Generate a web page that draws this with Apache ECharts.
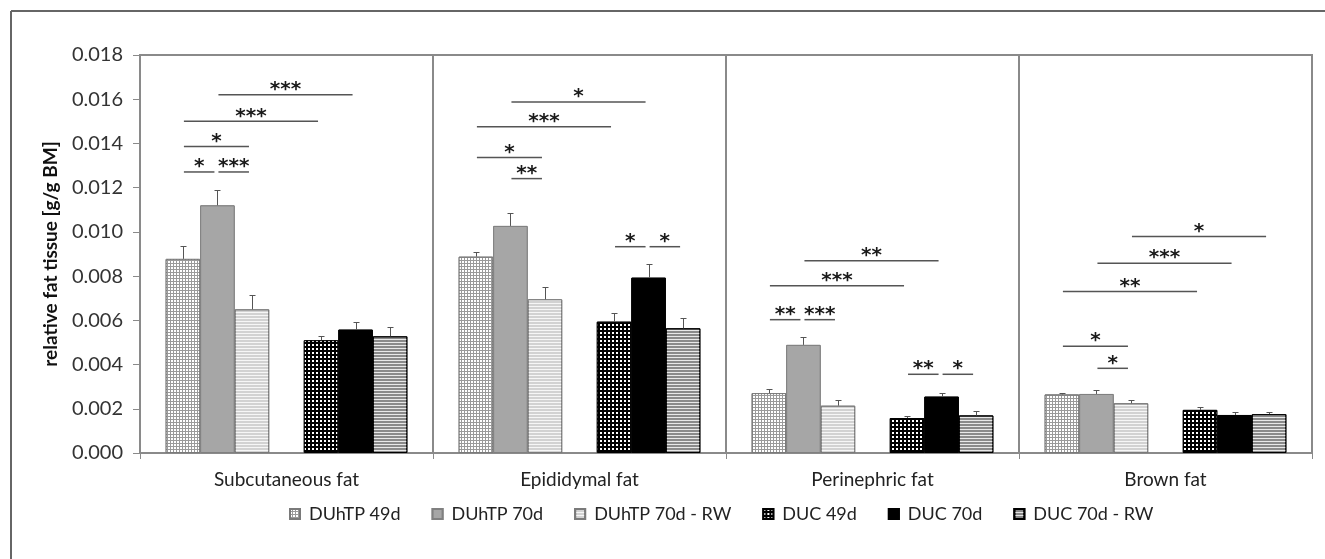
<!DOCTYPE html>
<html><head><meta charset="utf-8">
<script src="https://cdn.jsdelivr.net/npm/echarts@6/dist/echarts.min.js"></script>
<style>html,body{margin:0;padding:0;background:#fff}#c{width:1325px;height:559px}</style>
</head><body><div id="c"></div>
<script>
// ---- data ----
const categories = ['Subcutaneous fat', 'Epididymal fat', 'Perinephric fat', 'Brown fat'];
const seriesNames = ['DUhTP 49d', 'DUhTP 70d', 'DUhTP 70d - RW', 'DUC 49d', 'DUC 70d', 'DUC 70d - RW'];
const duhtp49 = [0.00878, 0.00888, 0.00271, 0.00265];
const duhtp70 = [0.01120, 0.01027, 0.00489, 0.00267];
const duhtp70rw = [0.00650, 0.00695, 0.00214, 0.00225];
const duc49 = [0.00510, 0.00594, 0.00158, 0.00195];
const duc70 = [0.00558, 0.00793, 0.00255, 0.00172];
const duc70rw = [0.00528, 0.00564, 0.00170, 0.00176];
const duhtp49Err = [0.00057, 0.00023, 0.00017, 0.00008];
const duhtp70Err = [0.00068, 0.00060, 0.00034, 0.00017];
const duhtp70rwErr = [0.00065, 0.00056, 0.00027, 0.00015];
const duc49Err = [0.00020, 0.00040, 0.00010, 0.00013];
const duc70Err = [0.00033, 0.00060, 0.00018, 0.00014];
const duc70rwErr = [0.00043, 0.00045, 0.00019, 0.00010];
const yTicks = {min: 0, max: 0.018, interval: 0.002};
// significance brackets: category, from bar, to bar (0..5), y level, label
const sigCat  = [0, 0, 0, 0, 0, 1, 1, 1, 1, 1, 1, 2, 2, 2, 2, 2, 2, 3, 3, 3, 3, 3];
const sigFrom = [1, 0, 0, 0, 1, 1, 0, 0, 1, 3, 4, 1, 0, 0, 1, 3, 4, 2, 1, 0, 0, 1];
const sigTo   = [4, 3, 2, 1, 2, 4, 3, 2, 2, 4, 5, 4, 3, 1, 2, 4, 5, 5, 4, 3, 2, 2];
const sigY    = [0.0162, 0.0150, 0.01386, 0.01271, 0.01271,
                 0.01587, 0.01476, 0.01336, 0.01241, 0.00933, 0.00933,
                 0.0087, 0.00756, 0.00603, 0.00603, 0.00356, 0.00356,
                 0.00979, 0.00858, 0.0073, 0.00483, 0.00383];
const sigLabel = ['***', '***', '*', '*', '***',
                  '*', '***', '*', '**', '*', '*',
                  '**', '***', '**', '***', '**', '*',
                  '*', '***', '**', '*', '*'];

// ---- styles ----
const CAT_GAP = 0.175;
const NSLOT = 7;
const slotOf = [0, 1, 2, 4, 5, 6];
const FONT = 'Lato';
const valuesList = [duhtp49, duhtp70, duhtp70rw, duc49, duc70, duc70rw];
const errList = [duhtp49Err, duhtp70Err, duhtp70rwErr, duc49Err, duc70Err, duc70rwErr];
function decal(c, dx, dy) { return {symbol: 'rect', symbolSize: 1, rotation: 0, color: c, dashArrayX: dx, dashArrayY: dy}; }
const styles = [
  {color: '#9a9a9a', borderColor: '#7a7a7a', borderWidth: 1, decal: decal('#ffffff', [2, 1], [2, 1])},
  {color: '#a6a6a6', borderColor: '#808080', borderWidth: 1, decal: decal('#a6a6a6', [1, 0], [1, 0])},
  {color: '#d2d2d2', borderColor: '#7a7a7a', borderWidth: 1, decal: decal('#f6f6f6', [1, 0], [1, 2])},
  {color: '#000000', borderColor: '#000000', borderWidth: 1, decal: decal('#ffffff', [2, 2], [2, 2])},
  {color: '#000000', borderColor: '#000000', borderWidth: 1, decal: decal('#000000', [1, 0], [1, 0])},
  {color: '#8a8a8a', borderColor: '#000000', borderWidth: 1, decal: decal('#e8e8e8', [1, 0], [1, 2])}
];

function slotX(api, cat, slot) {
  const c = api.coord([cat, 0]);
  const catW = api.size([1, 0])[0];
  const w = catW * (1 - CAT_GAP) / NSLOT;
  return c[0] + (slot - (NSLOT - 1) / 2) * w;
}

const series = [];
for (let s = 0; s < 6; s++) {
  if (s === 3) {
    series.push({type: 'bar', name: '__gap', data: categories.map(() => null),
      barGap: '0%', barCategoryGap: (CAT_GAP * 100) + '%', silent: true,
      itemStyle: {color: '#fff', decal: decal('#fff', [1, 0], [1, 0])}});
  }
  series.push({
    type: 'bar', name: seriesNames[s], data: valuesList[s],
    barGap: '0%', barCategoryGap: (CAT_GAP * 100) + '%',
    itemStyle: styles[s], emphasis: {disabled: true}
  });
}
for (let s = 0; s < 6; s++) {
  const errs = errList[s];
  const slot = slotOf[s];
  series.push({
    type: 'custom', name: 'err' + s, silent: true, z: 3,
    data: valuesList[s].map((v, i) => [i, v]),
    encode: {x: 0, y: 1},
    renderItem: function (params, api) {
      const cat = api.value(0), v = api.value(1);
      const x = Math.round(slotX(api, cat, slot)) + 0.5;
      const y0 = api.coord([cat, v])[1];
      const y1 = Math.round(api.coord([cat, v + errs[params.dataIndex]])[1]) + 0.5;
      const st = {stroke: '#555', lineWidth: 1};
      return {type: 'group', children: [
        {type: 'line', shape: {x1: x, y1: y0, x2: x, y2: y1}, style: st},
        {type: 'line', shape: {x1: x - 3, y1: y1, x2: x + 3, y2: y1}, style: st}
      ]};
    }
  });
}
series.push({
  type: 'custom', name: 'sig', silent: true, z: 4,
  data: sigCat.map((c, i) => [c, sigY[i]]),
  encode: {x: 0, y: 1},
  renderItem: function (params, api) {
    const i = params.dataIndex;
    const cat = api.value(0);
    const y = api.coord([cat, api.value(1)])[1];
    const xa = slotX(api, cat, slotOf[sigFrom[i]]) + 1;
    const xb = slotX(api, cat, slotOf[sigTo[i]]) - 3;
    return {type: 'group', children: [
      {type: 'line', shape: {x1: xa, y1: y, x2: xb, y2: y}, style: {stroke: '#555', lineWidth: 1.5}},
      {type: 'text', x: (xa + xb) / 2, y: y - 5,
       style: {text: sigLabel[i], fill: '#1a1a1a', font: 'bold 20px DejaVu Sans', align: 'center', verticalAlign: 'middle'}}
    ]};
  }
});

const chart = echarts.init(document.getElementById('c'), null, {renderer: 'canvas'});
chart.setOption({
  animation: false,
  aria: {enabled: true, decal: {show: true}},
  backgroundColor: '#fff',
  grid: {left: 140, right: 13, top: 55, bottom: 106, show: true, borderColor: '#8a8a8a', borderWidth: 2, containLabel: false},
  legend: {
    data: seriesNames, left: 289, top: 505, padding: 0, icon: 'rect',
    itemWidth: 10, itemHeight: 10, itemGap: 31,
    textStyle: {fontFamily: FONT, fontSize: 18, color: '#222', padding: [0, 0, 0, 4]},
    selectedMode: false
  },
  xAxis: {
    type: 'category', data: categories,
    axisLine: {show: true, lineStyle: {color: '#8a8a8a', width: 2}},
    axisTick: {show: true, length: 6, lineStyle: {color: '#8a8a8a'}},
    splitLine: {show: true, interval: 0, lineStyle: {color: '#8a8a8a', width: 2}},
    axisLabel: {fontFamily: FONT, fontSize: 19, color: '#222', margin: 17, interval: 0}
  },
  yAxis: {
    type: 'value', min: yTicks.min, max: yTicks.max, interval: yTicks.interval,
    name: 'relative fat tissue [g/g BM]', nameLocation: 'middle', nameGap: 80,
    nameTextStyle: {fontFamily: FONT, fontSize: 19, fontWeight: 'bold', color: '#111'},
    axisLine: {show: true, lineStyle: {color: '#8a8a8a', width: 2}},
    axisTick: {show: true, length: 7, lineStyle: {color: '#8a8a8a'}},
    splitLine: {show: false},
    axisLabel: {fontFamily: FONT, fontSize: 20, color: '#333', margin: 17, formatter: v => v.toFixed(3)}
  },
  graphic: [
    {type: 'line', shape: {x1: 11, y1: 11, x2: 11, y2: 559}, style: {stroke: '#666', lineWidth: 2}},
    {type: 'line', shape: {x1: 11, y1: 11, x2: 1325, y2: 11}, style: {stroke: '#666', lineWidth: 2}}
  ],
  series: series
});
</script>
</body></html>
